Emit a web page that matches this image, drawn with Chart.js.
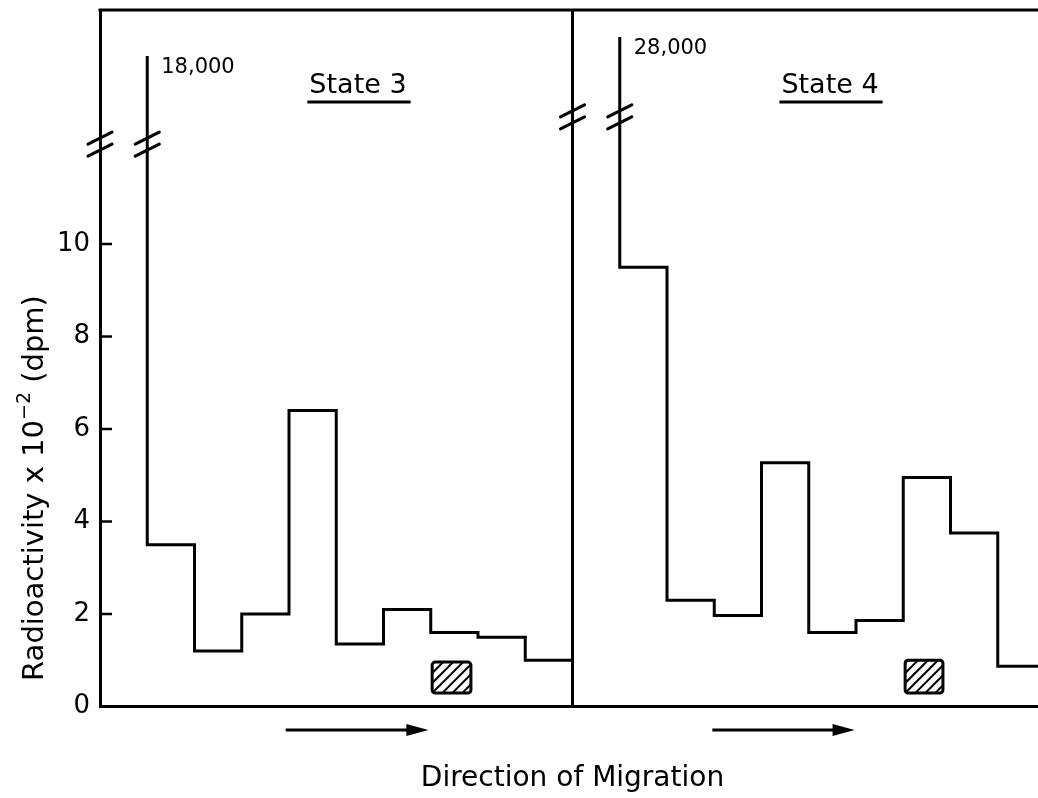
<!DOCTYPE html>
<html>
<head>
<meta charset="utf-8">
<script src="https://cdn.jsdelivr.net/npm/chart.js@4/dist/chart.umd.min.js"></script>
<style>
  html, body { margin: 0; padding: 0; overflow: hidden; background: #fff; }
  #wrap { width: 1050px; height: 798px; }
</style>
</head>
<body>
<div id="wrap"><canvas id="c" width="1050" height="798"></canvas></div>
<script>
// Gel fractions (left edge of each slice) and radioactivity per slice, x10^-2 dpm
const state3Fractions = [1, 2, 3, 4, 5, 6, 7, 8, 9];
const state3Values    = [3.5, 1.2, 2.0, 6.4, 1.35, 2.1, 1.6, 1.5, 1.0];
const state3Origin    = 18000;   // material left at the origin (off scale)

const state4Fractions = [11, 12, 13, 14, 15, 16, 17, 18, 19];
const state4Values    = [9.5, 2.3, 1.97, 5.27, 1.6, 1.86, 4.95, 3.75, 0.87];
const state4Origin    = 28000;

const panelTitles  = ['State 3', 'State 4'];
const yTickValues  = [0, 2, 4, 6, 8, 10];
const yTickLabels  = ['0', '2', '4', '6', '8', '10'];
const xTitle       = 'Direction of Migration';

// ---- broken value axis: counts above the break are compressed into the top strip
const OFFSCALE = 100;
const UPPER_BASE = 13.325;
const UPPER_SLOPE = 0.0000411;
function toDisplay(v) { return v > OFFSCALE ? UPPER_BASE + v * UPPER_SLOPE : v; }

class BrokenLinearScale extends Chart.LinearScale {
  static id = 'brokenLinear';
  static defaults = Chart.LinearScale.defaults;
  getPixelForValue(value) { return super.getPixelForValue(toDisplay(value)); }
  getPixelForDisplay(d) { return super.getPixelForValue(d); }
}
Chart.register(BrokenLinearScale);

function histogramPoints(fractions, values, origin) {
  const pts = [{ x: fractions[0], y: origin }];
  fractions.forEach((f, i) => pts.push({ x: f, y: values[i] }));
  const last = fractions.length - 1;
  pts.push({ x: fractions[last] + 1, y: values[last] });
  return pts;
}

const FONT = '"DejaVu Sans", sans-serif';
const INK = '#000';
const LW = 3;

// figure furniture: frame, inner ticks, axis breaks, panel labels, markers, arrows
const decor = {
  id: 'decor',
  afterDraw(chart, args, o) {
    const { ctx, chartArea: a } = chart;
    const xs = chart.scales.x, ys = chart.scales.y;
    ctx.save();
    ctx.strokeStyle = INK; ctx.fillStyle = INK; ctx.lineWidth = LW;
    ctx.lineCap = 'butt';

    // top frame line
    ctx.beginPath(); ctx.moveTo(a.left - 1.5, a.top); ctx.lineTo(a.right + 1.5, a.top); ctx.stroke();

    // tick marks pointing into the plot
    ctx.lineWidth = 2.5;
    ys.ticks.forEach(t => {
      const y = ys.getPixelForValue(t.value);
      ctx.beginPath(); ctx.moveTo(a.left, y); ctx.lineTo(a.left + 12, y); ctx.stroke();
    });

    // axis breaks
    ctx.lineWidth = 3.2;
    ctx.lineCap = 'round';
    const slash = (x, y) => {
      [-6, 6].forEach(dy => {
        ctx.beginPath();
        ctx.moveTo(x - 12, y + dy + 6);
        ctx.lineTo(x + 12, y + dy - 6);
        ctx.stroke();
      });
    };
    o.breaks.forEach(b => {
      const y = ys.getPixelForDisplay(b.at);
      slash(xs.getPixelForValue(b.axis), y);
      slash(xs.getPixelForValue(b.spike), y);
    });
    ctx.lineCap = 'butt';

    // off-scale counts at the origin
    ctx.font = '21px ' + FONT;
    ctx.textAlign = 'left'; ctx.textBaseline = 'alphabetic';
    [[state3Fractions[0], state3Origin], [state4Fractions[0], state4Origin]].forEach(([f, v]) => {
      const x = xs.getPixelForValue(f), y = ys.getPixelForValue(v);
      ctx.fillText(v.toLocaleString('en-US'), x + 14, y + 17);
    });

    // panel titles, underlined
    ctx.font = '27px ' + FONT;
    ctx.textAlign = 'center';
    panelTitles.forEach((t, i) => {
      const cx = xs.getPixelForValue(o.titleAt[i]);
      const w = ctx.measureText(t).width;
      ctx.fillText(t, cx, 93);
      ctx.lineWidth = 3;
      ctx.beginPath(); ctx.moveTo(cx - w / 2 - 2, 102); ctx.lineTo(cx + w / 2 + 4, 102); ctx.stroke();
    });

    // hatched marker boxes
    o.markers.forEach(m => {
      const x0 = xs.getPixelForValue(m.x0), x1 = xs.getPixelForValue(m.x1);
      const y0 = ys.getPixelForValue(m.y1), y1 = ys.getPixelForValue(m.y0);
      ctx.save();
      ctx.beginPath(); ctx.roundRect(x0, y0, x1 - x0, y1 - y0, 3); ctx.clip();
      ctx.lineWidth = 2;
      for (let k = -3; k <= 6; k++) {
        const bx = x0 + k * 10;
        ctx.beginPath(); ctx.moveTo(bx, y1); ctx.lineTo(bx + (y1 - y0), y0); ctx.stroke();
      }
      ctx.restore();
      ctx.lineWidth = 3;
      ctx.beginPath(); ctx.roundRect(x0, y0, x1 - x0, y1 - y0, 3); ctx.stroke();
    });

    // migration arrows
    o.arrows.forEach(r => {
      const x0 = xs.getPixelForValue(r[0]), x1 = xs.getPixelForValue(r[1]);
      const y = a.bottom + 23.5;
      ctx.lineWidth = 3;
      ctx.beginPath(); ctx.moveTo(x0, y); ctx.lineTo(x1 - 18, y); ctx.stroke();
      ctx.beginPath(); ctx.moveTo(x1, y); ctx.lineTo(x1 - 22, y - 6); ctx.lineTo(x1 - 22, y + 6); ctx.closePath(); ctx.fill();
    });

    // x-axis title, centred on the panel divider
    ctx.font = '28px ' + FONT;
    ctx.textAlign = 'center';
    ctx.fillText(xTitle, xs.getPixelForValue(10), 786);

    // y-axis title with superscript exponent
    ctx.save();
    ctx.translate(43, 488);
    ctx.rotate(-Math.PI / 2);
    ctx.textAlign = 'left';
    const p1 = 'Radioactivity x 10', p2 = '\u22122', p3 = ' (dpm)';
    ctx.font = '29px ' + FONT; const w1 = ctx.measureText(p1).width, w3 = ctx.measureText(p3).width;
    ctx.font = '19px ' + FONT; const w2 = ctx.measureText(p2).width;
    let sx = -(w1 + w2 + w3) / 2;
    ctx.font = '29px ' + FONT; ctx.fillText(p1, sx, 0); sx += w1;
    ctx.font = '19px ' + FONT; ctx.fillText(p2, sx, -13); sx += w2;
    ctx.font = '29px ' + FONT; ctx.fillText(p3, sx, 0);
    ctx.restore();

    ctx.restore();
  }
};

new Chart(document.getElementById('c'), {
  type: 'line',
  data: {
    datasets: [
      { label: panelTitles[0], data: histogramPoints(state3Fractions, state3Values, state3Origin) },
      { label: panelTitles[1], data: histogramPoints(state4Fractions, state4Values, state4Origin) }
    ]
  },
  options: {
    responsive: false,
    animation: false,
    events: [],
    layout: { padding: { top: 10, right: 5, left: 0, bottom: 0 } },
    elements: {
      line: { stepped: 'before', borderColor: INK, borderWidth: LW, tension: 0, fill: false,
              borderJoinStyle: 'miter', borderCapStyle: 'butt' },
      point: { radius: 0 }
    },
    plugins: {
      legend: { display: false },
      tooltip: { enabled: false },
      decor: {
        breaks: [ { axis: 0, spike: 1, at: 12.16 }, { axis: 10, spike: 11, at: 12.75 } ],
        titleAt: [5.46, 15.45],
        markers: [ { x0: 7.03, x1: 7.85, y0: 0.29, y1: 0.96 }, { x0: 17.04, x1: 17.84, y0: 0.29, y1: 1.0 } ],
        arrows: [ [3.93, 6.95], [12.96, 15.97] ]
      }
    },
    scales: {
      x: {
        type: 'linear', min: 0, max: 20,
        ticks: { display: false, stepSize: 10 },
        grid: { color: INK, lineWidth: LW, drawTicks: false },
        border: { display: true, color: INK, width: LW },
        afterFit(s) { s.height = 91.5; s.paddingLeft = 0; s.paddingRight = 0; }
      },
      y: {
        type: 'brokenLinear', min: 0, max: 15.06,
        afterBuildTicks(s) { s.ticks = yTickValues.map(v => ({ value: v })); },
        ticks: {
          padding: 10, color: INK, font: { family: 'DejaVu Sans', size: 26 },
          callback: (v) => yTickLabels[yTickValues.indexOf(v)]
        },
        grid: { display: false, drawTicks: false },
        border: { display: true, color: INK, width: LW },
        afterFit(s) { s.width = 100; s.paddingTop = 0; s.paddingBottom = 0; }
      }
    }
  },
  plugins: [decor]
});
</script>
</body>
</html>
